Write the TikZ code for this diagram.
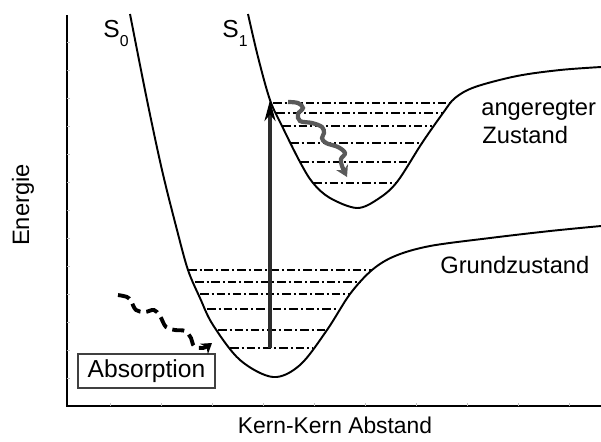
\documentclass[tikz,border=0pt]{standalone}
\usepackage{fontspec}
\setmainfont{Liberation Sans}
\usetikzlibrary{arrows.meta}

\definecolor{wavegray}{RGB}{90,90,90}
\definecolor{arrowgray}{RGB}{45,45,45}

\tikzset{
  pot/.style={line width=1.1pt},
  vlevel/.style={line width=0.85pt, dash pattern=on 0.17cm off 0.06cm on 0.04cm off 0.06cm},
  lbl/.style={font=\fontsize{13.5}{16}\selectfont, inner sep=0pt},
  tick/.style={black!25, line width=0.4pt},
}

\begin{document}
\begin{tikzpicture}[x=0.02cm,y=-0.02cm]
    \useasboundingbox (0,0) rectangle (601,441);
    % axes
    \draw[line width=1pt] (67,15) -- (67,406) -- (601,406);
    \foreach \x in {110,161,...,569} \draw[tick] (\x,406) -- (\x,403);
    \foreach \y in {42,70,...,378} \draw[tick] (67,\y) -- (70,\y);
    \node[lbl, rotate=90] (energy) at (23,205) {Energie};
    \node[lbl, font=\fontsize{13}{16}\selectfont] (dist) at (335,425) {Kern-Kern Abstand};

    % ground state S0
    \draw[pot] plot[smooth, tension=0.55] coordinates {(130,14) (147,100) (162,170) (177,230) (188,270)
        (200,298) (213,325) (240,360) (273,377) (300,365) (327,330) (350,294) (372,270)
        (395,256) (430,246) (490,238) (550,231) (601,226)};
    % excited state S1
    \draw[pot] plot[smooth, tension=0.55] coordinates {(248,14) (258,57) (270,100) (282,126) (300,162)
        (313,183) (330,198) (357,208) (378,199) (397,182) (422,143) (443,113) (455,98)
        (475,87) (517,76) (560,70) (601,67)};

    % vibrational levels
    \foreach \y/\a/\b in {270/188/372, 282/195/360, 294/200/350, 309/207/337, 330/218/327, 348/230/313}
        \draw[vlevel] (\a,\y) -- (\b,\y);
    \foreach \y/\a/\b in {103/273/453, 113/276/443, 126/282/432, 143/290/422, 162/300/408, 183/313/397}
        \draw[vlevel] (\a,\y) -- (\b,\y);

    \node[lbl, font=\fontsize{14}{16}\selectfont, anchor=base west] (s0) at (103,37) {S\raisebox{-0.7ex}{\fontsize{9}{10}\selectfont 0}};
    \node[lbl, font=\fontsize{14}{16}\selectfont, anchor=base west] (s1) at (222,37) {S\raisebox{-0.7ex}{\fontsize{9}{10}\selectfont 1}};
    \node[lbl, anchor=base west] (exc1) at (481,115) {angeregter};
    \node[lbl, anchor=base west] (exc2) at (482,143) {Zustand};
    \node[lbl, anchor=base west] (gnd) at (440,273) {Grundzustand};
    \node[lbl, font=\fontsize{14}{16}\selectfont, draw=black!75, line width=0.6pt, minimum width=2.74cm, minimum height=0.68cm] (absorb) at (146.5,371) {Absorption};

    % absorption
    \coordinate (v0) at (270,348);
    \coordinate (v1) at (270,100);
    \draw[arrowgray, line width=1.8pt, -{Stealth[length=0.42cm, width=0.22cm, inset=0.13cm, color=black]}] (v0) -- (v1);

    % relaxation in S1
    \draw[wavegray, line width=2.4pt, -{Stealth[length=0.22cm, width=0.26cm]}] plot[smooth, tension=0.6] coordinates {(288,102) (298,103) (303,108) (298,114)
        (300,121) (312,123) (322,127) (324,133) (322,138) (326,143) (338,147) (345,153) (341,159) (342,166) (347,177)};

    % incoming photon
    \draw[line width=2.2pt, dash pattern=on 0.24cm off 0.12cm, -{Stealth[length=0.2cm, width=0.26cm]}] plot[smooth, tension=0.6] coordinates {(118,295) (127,297) (131,301) (136,310) (145,312)
        (154,310) (160,316) (166,327) (175,330) (185,331) (191,338) (194,346) (203,348) (212,343)};
\end{tikzpicture}
\end{document}
